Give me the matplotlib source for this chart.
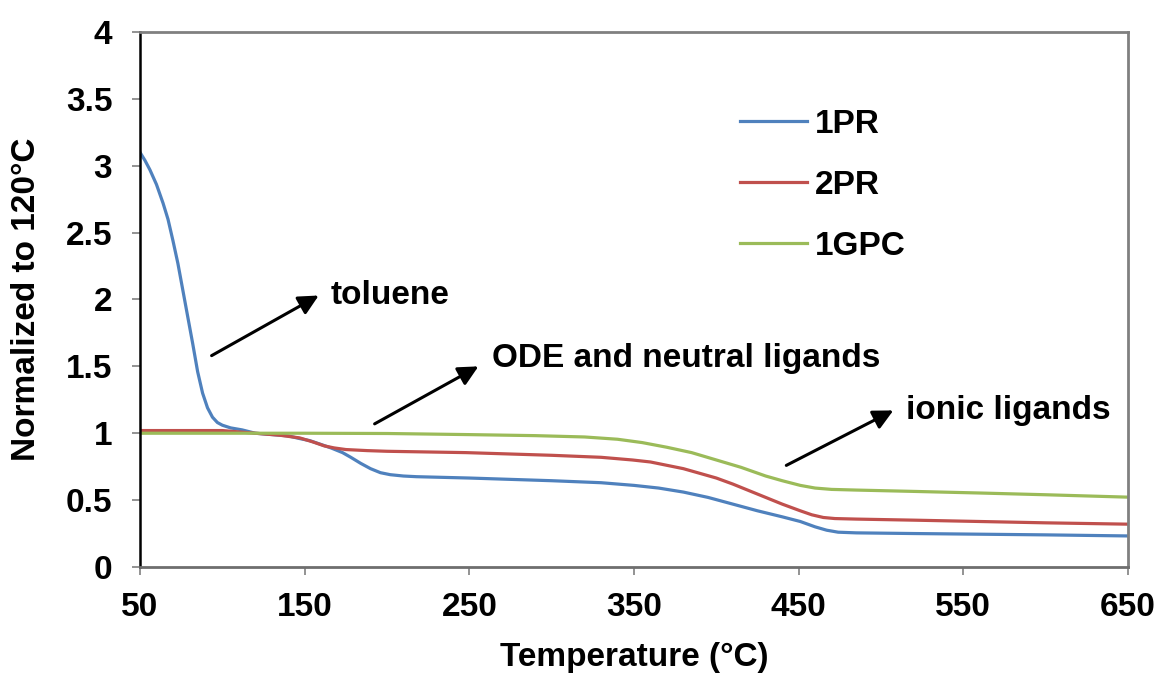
import matplotlib.pyplot as plt

plt.rcParams['font.family'] = ['Liberation Sans', 'DejaVu Sans']
plt.rcParams['font.weight'] = 'bold'

# temperatures (deg C) and normalized curves
temp_1pr = [50, 53, 56, 60, 64, 67, 70, 73, 76, 79, 82, 85, 88, 91, 94, 97, 100, 105, 112, 120,
            130, 140, 147, 153, 159, 166, 173, 178, 184, 190, 196, 202, 210, 218, 250, 300, 330,
            350, 365, 380, 395, 410, 425, 440, 451, 460, 467, 474, 485, 520, 560, 600, 650]
norm_1pr = [3.1, 3.04, 2.97, 2.86, 2.72, 2.6, 2.44, 2.27, 2.07, 1.87, 1.67, 1.46, 1.3, 1.19,
            1.12, 1.08, 1.06, 1.04, 1.025, 1.0, 0.99, 0.98, 0.96, 0.945, 0.92, 0.89, 0.855, 0.82,
            0.775, 0.735, 0.705, 0.69, 0.68, 0.675, 0.665, 0.645, 0.63, 0.61, 0.59, 0.56, 0.52,
            0.47, 0.42, 0.375, 0.34, 0.3, 0.275, 0.26, 0.255, 0.25, 0.245, 0.24, 0.232]

temp_2pr = [50, 100, 120, 135, 147, 155, 162, 168, 175, 188, 200, 248, 300, 330, 349, 360, 370,
            380, 390, 400, 410, 420, 430, 440, 451, 458, 465, 472, 485, 520, 560, 600, 650]
norm_2pr = [1.02, 1.02, 1.0, 0.985, 0.965, 0.935, 0.905, 0.89, 0.878, 0.87, 0.865, 0.855, 0.835,
            0.82, 0.8, 0.785, 0.76, 0.735, 0.7, 0.665, 0.62, 0.57, 0.52, 0.47, 0.42, 0.39, 0.37,
            0.362, 0.358, 0.35, 0.34, 0.33, 0.32]

temp_1gpc = [50, 100, 150, 200, 248, 290, 320, 340, 355, 370, 385, 400, 415, 430, 440, 451, 460,
             470, 485, 520, 560, 600, 650]
norm_1gpc = [1.0, 1.0, 1.0, 0.998, 0.99, 0.982, 0.972, 0.955, 0.93, 0.895, 0.855, 0.8, 0.745,
             0.68, 0.645, 0.61, 0.59, 0.58, 0.575, 0.565, 0.553, 0.54, 0.522]

x_ticks = [50, 150, 250, 350, 450, 550, 650]
y_ticks = [0, 0.5, 1, 1.5, 2, 2.5, 3, 3.5, 4]
y_labels = ['0', '0.5', '1', '1.5', '2', '2.5', '3', '3.5', '4']

fig = plt.figure(figsize=(11.6, 6.74), dpi=100)
ax = fig.add_axes([0.1207, 0.1588, 0.8517, 0.7937])

ax.plot(temp_1pr, norm_1pr, color='#4F81BD', lw=2.3, label='1PR')
ax.plot(temp_2pr, norm_2pr, color='#C0504D', lw=2.3, label='2PR')
ax.plot(temp_1gpc, norm_1gpc, color='#9BBB59', lw=2.3, label='1GPC')

ax.set_xlim(50, 650)
ax.set_ylim(0, 4)
ax.set_xticks(x_ticks)
ax.set_yticks(y_ticks)
ax.set_yticklabels(y_labels)
ax.tick_params(labelsize=24, length=6, width=1.2, color='#808080')
ax.tick_params(axis='y', pad=14)
ax.tick_params(axis='x', pad=12)
ax.set_xlabel('Temperature (°C)', fontsize=24, fontweight='bold', labelpad=14)
ax.set_ylabel('Normalized to 120°C', fontsize=24, fontweight='bold', labelpad=17)

ax.spines['left'].set_color('black')
ax.spines['left'].set_linewidth(1.8)
ax.spines['bottom'].set_color('#6e6e6e')
ax.spines['bottom'].set_linewidth(2)
for s in ['top', 'right']:
    ax.spines[s].set_color('#808080')
    ax.spines[s].set_linewidth(2)

arrow = dict(arrowstyle='-|>', color='black', lw=2.2, mutation_scale=30)
ax.annotate('', xy=(160, 2.04), xytext=(92, 1.57), arrowprops=arrow)
ax.text(166, 2.03, 'toluene', fontsize=24, fontweight='bold', va='center')
ax.annotate('', xy=(257, 1.51), xytext=(191, 1.06), arrowprops=arrow)
ax.text(264, 1.56, 'ODE and neutral ligands', fontsize=24, fontweight='bold', va='center')
ax.annotate('', xy=(509, 1.18), xytext=(441, 0.75), arrowprops=arrow)
ax.text(515, 1.17, 'ionic ligands', fontsize=24, fontweight='bold', va='center')

ax.legend(loc='upper left', bbox_to_anchor=(0.577, 0.913), frameon=False, fontsize=24,
          handlelength=2.0, handletextpad=0.25, labelspacing=0.9)

fig.savefig('out.png', dpi=100)
